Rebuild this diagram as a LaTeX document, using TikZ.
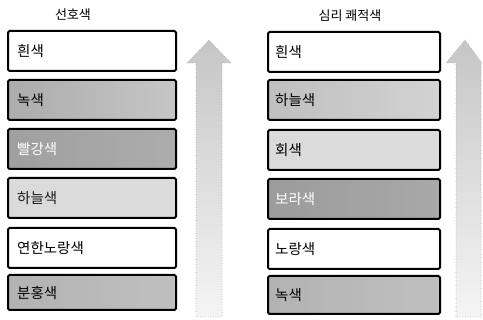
\documentclass[tikz,border=0pt]{standalone}
\usepackage{fontspec}
\setmainfont{Noto Sans CJK KR}
\usetikzlibrary{shapes.arrows}
\begin{document}
\begin{tikzpicture}[x=1pt,y=-1pt,
  cbox/.style={draw=black, line width=2pt, rounded corners=1.5pt, minimum width=168pt, minimum height=40pt, anchor=north west, inner sep=0pt},
  lbl/.style={anchor=west, font=\fontsize{14.5}{16}\selectfont, inner sep=0pt},
  ttl/.style={font=\fontsize{13}{15}\selectfont, inner sep=0pt},
  arrowfill/.style={draw=gray!70, dotted, line width=0.6pt, top color=gray!45, bottom color=gray!8},
]
\useasboundingbox (0,0) rectangle (483,320);
\fill[white] (0,0) rectangle (483,320);

% titles
\node[ttl] (t1) at (73,15) {선호색};
\node[ttl] (t2) at (350,16) {심리 쾌적색};

% left column
\node[cbox, fill=white] (l1) at (7,30) {};
\node[cbox, left color=gray!65, right color=gray!45] (l2) at (7,79) {};
\node[cbox, left color=gray!75, right color=gray!65] (l3) at (7,128) {};
\node[cbox, fill=gray!28] (l4) at (7,177) {};
\node[cbox, fill=white] (l5) at (7,227) {};
\node[cbox, left color=gray!60, right color=gray!50, minimum height=35pt] (l6) at (7,274) {};

\node[lbl] at ([xshift=10pt]l1.west) {흰색};
\node[lbl] at ([xshift=10pt]l2.west) {녹색};
\node[lbl, text=white] at ([xshift=10pt]l3.west) {빨강색};
\node[lbl, text=gray!20!black] at ([xshift=10pt]l4.west) {하늘색};
\node[lbl] at ([xshift=10pt]l5.west) {연한노랑색};
\node[lbl] at ([xshift=10pt]l6.west) {분홍색};

% right column
\node[cbox, fill=white, minimum width=172pt] (r1) at (267,31) {};
\node[cbox, left color=gray!50, right color=gray!35, minimum width=172pt] (r2) at (267,79) {};
\node[cbox, fill=gray!28, minimum width=172pt] (r3) at (267,129) {};
\node[cbox, left color=gray!78, right color=gray!68, minimum width=172pt] (r4) at (267,178) {};
\node[cbox, fill=white, minimum width=172pt] (r5) at (267,228) {};
\node[cbox, left color=gray!60, right color=gray!50, minimum width=172pt, minimum height=38pt] (r6) at (267,275) {};

\node[lbl] at ([xshift=8pt]r1.west) {흰색};
\node[lbl] at ([xshift=8pt]r2.west) {하늘색};
\node[lbl] at ([xshift=8pt]r3.west) {회색};
\node[lbl, text=white] at ([xshift=8pt]r4.west) {보라색};
\node[lbl] at ([xshift=8pt]r5.west) {노랑색};
\node[lbl] at ([xshift=8pt]r6.west) {녹색};

% arrows
\draw[arrowfill] (196,317) -- (196,63) -- (187,63) -- (209,40) -- (231,63) -- (222,63) -- (222,317) -- cycle;
\draw[arrowfill] (456,317) -- (456,63) -- (446,63) -- (465,40) -- (482,63) -- (481,63) -- (481,317) -- cycle;
\end{tikzpicture}
\end{document}
